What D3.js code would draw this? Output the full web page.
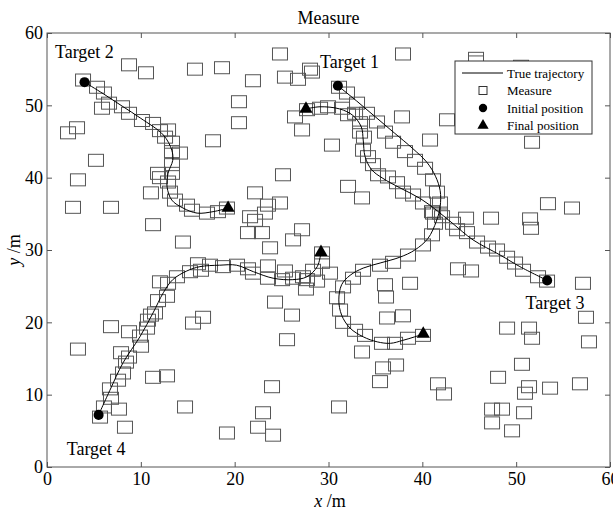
<!DOCTYPE html>
<html><head><meta charset="utf-8">
<script src="https://cdn.jsdelivr.net/npm/d3@7"></script>
<style>
body{margin:0;background:#fff}
svg{display:block}
text{font-family:"Liberation Serif","Times New Roman",serif;fill:#000}
</style>
</head><body>
<svg id="chart" width="613" height="515"></svg>
<script>
// ---------- data ----------
const xTicks = [0,10,20,30,40,50,60];
const yTicks = [0,10,20,30,40,50,60];
const titleText = "Measure";
const legendLabels = ["True trajectory","Measure","Initial position","Final position"];
const targetNames = ["Target 1","Target 2","Target 3","Target 4"];
const targetLabelAnchors = [[29.1,55.2],[0.85,56.5],[51.0,21.8],[2.1,1.7]];

const trajectory1 = [[31.0,52.7],[33,50.6],[35,48.4],[37,46.2],[39,44.0],[40.5,42.1],[41.4,40.2],[41.9,38.2],[41.9,36.0],[41.5,34.0],[40.6,31.6],[39.2,30.0],[37.6,29.0],[35.5,28.2],[33.7,27.5],[32.3,26.5],[31.4,25.2],[31.1,23.1],[31.4,21.0],[32.3,19.2],[33.7,18.0],[35.2,17.3],[36.6,17.1],[37.9,17.5],[39.2,18.0],[40.1,18.4]];
const trajectory2 = [[4.0,53.2],[6,51.6],[8,49.9],[10,48.2],[12.4,45.9],[13.3,43.8],[13.4,42.4],[12.9,40.6],[12.8,38.7],[13.3,36.9],[14.5,35.8],[16.0,35.1],[17.7,35.3],[19.3,35.8]];
const trajectory3 = [[53.3,25.8],[50.4,27.7],[48.3,29.3],[45.4,31.4],[43.3,33.6],[41.6,35.4],[39.8,37.1],[37.6,38.6],[35.8,39.9],[34.6,41.1],[33.9,42.9],[33.7,45.2],[33.5,47.0],[32.6,48.6],[31.2,49.5],[29.1,49.8],[27.6,49.5]];
const trajectory4 = [[5.5,7.2],[6.7,10.6],[8.1,14.4],[9.9,18.0],[11.3,21.3],[12.4,24.1],[13.4,25.9],[14.9,27.1],[16.3,27.7],[18.4,27.9],[20.2,27.9],[22.0,27.0],[24.1,26.1],[26.2,25.9],[27.7,26.3],[28.8,27.7],[29.2,29.7]];

const initialPositions = [[31.0,52.7],[4.0,53.2],[53.3,25.8],[5.5,7.2]];
const finalPositions = [[40.1,18.4],[19.3,35.8],[27.6,49.5],[29.2,29.7]];

const measuresTrack2 = [[3.84,53.5],[5.33,52.5],[6.07,51.7],[6.61,50.3],[5.86,49.6],[7.99,49.8],[8.74,48.9],[10.12,47.9],[11.30,47.5],[12.04,46.5],[12.90,46.6],[12.58,45.6],[13.32,44.9],[13.32,43.6],[14.17,43.4],[13.32,41.8],[11.83,40.6],[13.32,40.6],[12.04,40.0],[12.90,39.4],[13.11,38.0],[13.64,36.9],[14.92,36.2],[15.45,35.5],[17.05,35.1],[18.22,35.3],[19.18,35.8]];
const measuresTrack1 = [[31.12,52.5],[31.97,51.7],[33.04,50.3],[34.10,48.9],[35.17,47.7],[36.02,46.3],[36.88,44.9],[38.15,43.6],[39.22,42.4],[40.29,41.3],[41.14,39.7],[41.56,38.0],[41.88,36.5],[41.14,35.1],[42.10,34.6],[41.35,33.7],[43.27,33.7],[41.03,32.1],[40.07,30.7],[38.47,29.3],[36.88,28.3],[35.49,27.9],[33.68,27.2],[32.61,26.1],[31.55,24.9],[30.91,23.4],[31.23,21.7],[31.55,20.0],[32.83,18.9],[33.89,18.2],[35.70,17.1],[37.09,17.1],[38.47,17.8],[40.07,18.2]];
const measuresTrack3 = [[53.29,25.7],[52.33,26.3],[50.73,27.2],[49.88,28.2],[49.03,29.0],[47.96,30.0],[47.00,30.4],[45.83,31.1],[44.76,32.4],[43.70,32.8],[41.88,35.1],[41.03,35.3],[40.07,36.5],[39.01,37.6],[37.94,38.0],[37.30,39.3],[36.34,40.1],[35.28,40.4],[34.74,41.8],[34.21,42.9],[33.68,43.8],[33.78,45.6],[33.36,46.3],[33.36,47.6],[32.83,48.9],[32.08,48.7],[31.44,49.6],[29.95,49.8],[29.10,49.6],[27.71,49.4],[26.43,48.4]];
const measuresTrack4 = [[5.65,6.9],[6.07,8.3],[7.67,8.0],[6.82,9.5],[6.71,10.8],[7.57,12.0],[8.10,13.0],[7.89,15.8],[8.42,14.5],[8.74,15.2],[8.74,18.7],[9.91,18.1],[10.02,16.7],[10.66,19.2],[10.76,20.3],[11.51,21.3],[11.08,21.0],[11.83,23.0],[12.79,23.6],[12.04,25.6],[12.90,25.4],[13.85,26.3],[15.24,27.0],[16.09,28.1],[16.41,27.2],[17.37,27.9],[18.76,27.7],[20.25,27.9],[21.42,27.4],[21.95,26.8],[23.55,27.8],[23.55,26.1],[25.36,27.1],[25.05,25.9],[26.22,26.1],[27.28,26.3],[27.60,24.6],[28.35,27.2],[28.78,25.7],[29.31,28.3],[29.31,29.6],[30.16,26.8]];
const measuresClutter = [[8.74,55.6],[10.55,54.5],[15.77,55.0],[18.65,55.2],[20.46,50.5],[20.46,47.6],[17.69,45.1],[3.20,46.9],[2.24,46.2],[5.22,42.4],[3.30,39.7],[2.77,35.9],[6.82,35.9],[11.08,37.9],[11.30,33.5],
[24.83,57.1],[28.03,55.0],[28.24,54.6],[25.36,53.9],[26.75,53.6],[21.95,53.4],[37.94,57.1],[45.72,56.5],[45.72,56.0],[50.52,55.4],[27.18,46.6],[30.37,44.5],[25.15,40.4],[32.08,38.8],[33.57,37.2],[37.83,48.4],[40.82,45.2],[42.63,48.0],
[27.71,25.9],[22.17,37.9],[23.55,36.2],[24.83,36.5],[21.64,34.6],[23.23,35.1],[22.17,34.1],[27.18,32.8],[21.42,32.4],[22.91,32.4],[26.22,31.4],[14.49,31.1],[23.77,30.3],[24.30,22.8],[26.11,21.0],[25.58,17.6],[23.98,11.1],[23.02,7.5],[22.49,5.5],[24.09,4.4],[19.18,4.7],[14.71,8.3],[8.31,5.5],[11.30,12.4],[12.79,12.6],[15.56,19.9],[16.63,20.7],[6.82,19.4],[3.30,16.3],[31.12,8.3],
[43.80,27.4],[45.19,27.1],[36.02,25.2],[36.13,23.5],[38.69,25.4],[36.24,20.6],[37.94,20.9],[33.57,15.9],[35.81,13.7],[37.20,14.1],[35.49,11.8],[41.67,11.5],[42.31,10.1],[49.03,19.2],[51.37,19.2],[51.69,17.8],[50.62,14.2],[48.07,12.4],[51.37,11.1],[50.94,10.2],[53.61,10.9],[56.80,11.5],[47.43,8.0],[48.49,8.0],[50.84,7.5],[47.43,6.1],[49.56,5.0],[57.12,25.4],[57.44,20.7],[57.76,17.3],[44.66,34.4],[47.32,34.4],[51.48,34.3],[51.58,33.0],[53.39,36.4],[55.95,35.8],[51.69,44.9]];

// ---------- chart ----------
const svg = d3.select("#chart");
const x = d3.scaleLinear().domain([0,60]).range([47,610]);
const y = d3.scaleLinear().domain([0,60]).range([467,33]);
const axisColor = "#555";
const fs = 18;

// measures
const allMeasures = [].concat(measuresTrack1, measuresTrack2, measuresTrack3, measuresTrack4, measuresClutter);
const mw = 15, mh = 12;
svg.append("g").selectAll("rect").data(allMeasures).join("rect")
  .attr("x", d => x(d[0]) - mw/2).attr("y", d => y(d[1]) - mh/2)
  .attr("width", mw).attr("height", mh)
  .attr("fill", "none").attr("stroke", "#555").attr("stroke-width", 1);

// trajectories
const line = d3.line().x(d => x(d[0])).y(d => y(d[1])).curve(d3.curveCatmullRom.alpha(0.5));
svg.append("g").selectAll("path").data([trajectory1, trajectory2, trajectory3, trajectory4]).join("path")
  .attr("d", line).attr("fill", "none").attr("stroke", "#000").attr("stroke-width", 1);

// markers
const circleSym = d3.symbol().type(d3.symbolCircle).size(80);
const triSym = d3.symbol().type(d3.symbolTriangle).size(75);
svg.append("g").selectAll("path").data(initialPositions).join("path")
  .attr("transform", d => `translate(${x(d[0])},${y(d[1])})`).attr("d", circleSym).attr("fill", "#000");
svg.append("g").selectAll("path").data(finalPositions).join("path")
  .attr("transform", d => `translate(${x(d[0])},${y(d[1])})`).attr("d", triSym).attr("fill", "#000");

// target labels
svg.append("g").selectAll("text").data(targetNames).join("text")
  .attr("x", (d,i) => x(targetLabelAnchors[i][0])).attr("y", (d,i) => y(targetLabelAnchors[i][1]))
  .attr("font-size", fs).text(d => d);

// axes
function styleAxis(g, showLabels){
  g.select(".domain").remove();
  g.selectAll(".tick line").attr("stroke", axisColor);
  g.selectAll(".tick text").attr("font-size", fs).attr("font-family", "Liberation Serif").attr("fill", "#000");
  if(!showLabels) g.selectAll(".tick text").remove();
}
svg.append("g").attr("transform", "translate(0,467)")
  .call(d3.axisBottom(x).tickValues(xTicks).tickSizeInner(-5).tickSizeOuter(0).tickPadding(5))
  .call(g => styleAxis(g, true));
svg.append("g").attr("transform", "translate(0,33)")
  .call(d3.axisTop(x).tickValues(xTicks).tickSizeInner(-5).tickSizeOuter(0))
  .call(g => styleAxis(g, false));
svg.append("g").attr("transform", "translate(47,0)")
  .call(d3.axisLeft(y).tickValues(yTicks).tickSizeInner(-5).tickSizeOuter(0).tickPadding(4))
  .call(g => styleAxis(g, true));
svg.append("g").attr("transform", "translate(610,0)")
  .call(d3.axisRight(y).tickValues(yTicks).tickSizeInner(-5).tickSizeOuter(0))
  .call(g => styleAxis(g, false));
svg.append("rect").attr("x", x(0)).attr("y", y(60)).attr("width", x(60)-x(0)).attr("height", y(0)-y(60))
  .attr("fill", "none").attr("stroke", axisColor).attr("stroke-width", 1);

// title and axis labels
svg.append("text").attr("x", (x(0)+x(60))/2).attr("y", 24).attr("text-anchor", "middle").attr("font-size", fs).text(titleText);
const xl = svg.append("text").attr("x", 330).attr("y", 507).attr("text-anchor", "middle").attr("font-size", fs);
xl.append("tspan").attr("font-style", "italic").text("x");
xl.append("tspan").text(" /m");
const yl = svg.append("text").attr("transform", "translate(20,250) rotate(-90)").attr("text-anchor", "middle").attr("font-size", fs);
yl.append("tspan").attr("font-style", "italic").text("y");
yl.append("tspan").text(" /m");

// legend
const lg = svg.append("g");
lg.append("rect").attr("x", 455).attr("y", 61).attr("width", 137).attr("height", 73)
  .attr("fill", "#fff").attr("stroke", "#333").attr("stroke-width", 1);
const rowY = i => 73 + i*17.5;
lg.append("line").attr("x1", 462).attr("x2", 503).attr("y1", rowY(0)).attr("y2", rowY(0)).attr("stroke", "#000");
lg.append("rect").attr("x", 479).attr("y", rowY(1)-4).attr("width", 8).attr("height", 8).attr("fill", "none").attr("stroke", "#333");
lg.append("path").attr("transform", `translate(483,${rowY(2)})`).attr("d", d3.symbol().type(d3.symbolCircle).size(55)).attr("fill", "#000");
lg.append("path").attr("transform", `translate(483,${rowY(3)})`).attr("d", d3.symbol().type(d3.symbolTriangle).size(55)).attr("fill", "#000");
lg.selectAll("text.lt").data(legendLabels).join("text").attr("class", "lt")
  .attr("x", 507).attr("y", (d,i) => rowY(i) + 4.5).attr("font-size", 13).text(d => d);
</script>
</body></html>
